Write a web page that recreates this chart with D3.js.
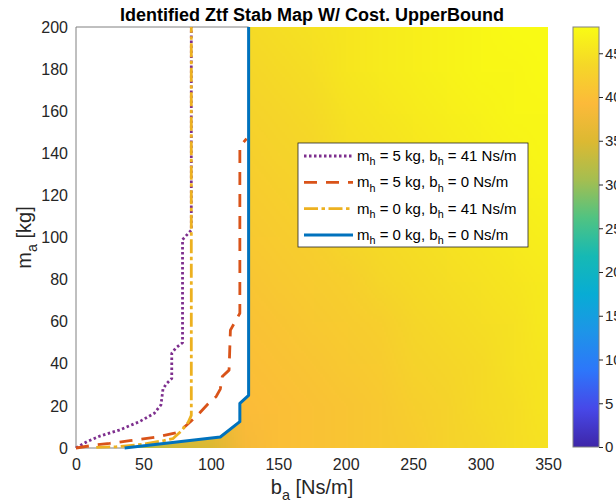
<!DOCTYPE html>
<html>
<head>
<meta charset="utf-8">
<script src="https://cdn.jsdelivr.net/npm/d3@7"></script>
<style>
  body { margin: 0; background: #fff; }
  svg { display: block; }
  text { font-family: "Liberation Sans", Arial, sans-serif; }
</style>
</head>
<body>
<svg id="chart"></svg>
<script>
// ---- data ----
const bGrid = [0, 25, 50, 75, 100, 125, 150, 175, 200, 225, 250, 275, 300, 325, 350];
const mGrid = [0, 20, 40, 60, 80, 100, 120, 140, 160, 180, 200];
// cost value per (m row, b column)
const costRows = [
    [28, 30, 32, 34, 35, 38.5, 40, 40.5, 41, 41.5, 42, 43, 43.5, 44.5, 45],
    [29, 31, 33, 35, 36.5, 39.5, 40, 40.5, 41, 41.5, 42.5, 43, 44, 44.5, 45.5],
    [30, 32, 34, 36, 38, 40, 40.5, 41, 41.5, 42, 43, 43.5, 44, 45, 45.5],
    [31, 33, 35, 37, 39, 40.5, 41, 41.5, 42, 42.5, 43.5, 44, 44.5, 45, 46],
    [32, 34, 36, 38, 40, 41, 41.5, 42, 42.5, 43.5, 44, 44.5, 45, 45.5, 46],
    [33, 35, 37, 39, 40.5, 41.5, 42, 42.5, 43.5, 44, 44.5, 45, 45.5, 46, 46.5],
    [34, 36, 38, 40, 41, 42, 42.5, 43, 44, 44.5, 45, 45.5, 46, 46.5, 47],
    [35, 37, 39, 40.5, 41.5, 42.5, 43, 43.5, 44.5, 45, 45.5, 46, 46.5, 47, 47.5],
    [36, 38, 40, 41, 42, 43, 43.5, 44, 45, 45.5, 46, 46.5, 47, 47.5, 47.5],
    [37, 39, 40.5, 41.5, 42.5, 43.5, 44, 44.5, 45.5, 46, 46.5, 47, 47.5, 47.5, 48],
    [38, 40, 41, 42, 43, 44, 44.5, 45, 45.5, 46, 46.5, 47, 47.5, 48, 48]
];

// stability boundaries [b_a, m_a]
const curveM5B41 = [[0, 0], [8, 3], [17, 5.5], [32, 8.5], [47, 12.5], [58, 16.5], [63, 20.5], [64.5, 28], [67, 30.5], [71, 33], [71, 45], [74, 47.5], [79, 50], [79, 99], [85.5, 103.5], [85.5, 200]];
const curveM5B0 = [[0, 0], [15, 1.5], [25, 2.2], [40, 3.5], [60, 5.2], [76, 7.5], [84, 12], [90, 15.5], [98, 21], [104, 24.5], [107, 28], [108.5, 34], [113.5, 37], [114.5, 56], [121.5, 64], [121.5, 143], [126.5, 147]];
const curveM0B41 = [[15, 0.3], [30, 0.6], [50, 1.8], [65, 3.5], [72, 4.5], [78, 8], [83, 12], [85.5, 15.5], [85.5, 200]];
const curveM0B0 = [[36, 0], [107, 5.2], [121.5, 12.5], [121.5, 21.2], [128, 25], [128, 200]];

const legendMh = ['5', '5', '0', '0'];
const legendBh = ['41', '0', '41', '0'];

const xTicks = [0, 50, 100, 150, 200, 250, 300, 350];
const yTicks = [0, 20, 40, 60, 80, 100, 120, 140, 160, 180, 200];
const cbTicks = [0, 5, 10, 15, 20, 25, 30, 35, 40, 45];
const cbMax = 48;

// ---- style ----
const W = 616, H = 504;
const parulaStops = ['#3e26a8', '#4748e8', '#2d76fa', '#1e94e8', '#08acd4', '#16b9b4', '#50c382', '#a5be50', '#dcb932', '#fcba3a', '#f5d728', '#f9fb14'];
const series = [
    { data: curveM5B41, color: '#7e2f8e', dash: '2.5,2.5', width: 2.8 },
    { data: curveM5B0, color: '#d95319', dash: '13,9', width: 2.8 },
    { data: curveM0B41, color: '#edb120', dash: '14,3.5,3.5,3.5', width: 2.8 },
    { data: curveM0B0, color: '#0072bd', dash: null, width: 3 }
];

const x = d3.scaleLinear().domain([0, 350]).range([76, 548]);
const y = d3.scaleLinear().domain([0, 200]).range([448, 27]);
const parula = d3.scaleLinear()
    .domain(parulaStops.map((c, i) => i / (parulaStops.length - 1) * cbMax))
    .range(parulaStops)
    .clamp(true);

const svg = d3.select('#chart').attr('width', W).attr('height', H);
const defs = svg.append('defs');
defs.append('clipPath').attr('id', 'plot-clip').append('rect')
    .attr('x', x(0)).attr('y', y(200)).attr('width', x(350) - x(0)).attr('height', y(0) - y(200));

// Heatmap: small image, smoothed by the browser
const cv = document.createElement('canvas');
cv.width = bGrid.length; cv.height = mGrid.length;
const ctx = cv.getContext('2d');
costRows.forEach((row, j) => row.forEach((v, i) => {
    ctx.fillStyle = parula(v);
    ctx.fillRect(i, mGrid.length - 1 - j, 1, 1);
}));
const db = bGrid[1] - bGrid[0], dm = mGrid[1] - mGrid[0];
const bLast = bGrid[bGrid.length - 1], mLast = mGrid[mGrid.length - 1];
svg.append('image')
    .attr('href', cv.toDataURL())
    .attr('x', x(bGrid[0] - db / 2)).attr('y', y(mLast + dm / 2))
    .attr('width', x(bLast + db / 2) - x(bGrid[0] - db / 2))
    .attr('height', y(mGrid[0] - dm / 2) - y(mLast + dm / 2))
    .attr('preserveAspectRatio', 'none')
    .attr('clip-path', 'url(#plot-clip)')
    .style('image-rendering', 'auto');

// Unstable region left of the m_h=0,b_h=0 boundary is blank
const edge = curveM0B0;
const maskPts = [[0, 0], ...edge, [edge[edge.length - 1][0], 200], [0, 200]];
svg.append('path')
    .attr('d', d3.line().x(d => x(d[0])).y(d => y(d[1]))(maskPts) + 'Z')
    .attr('fill', '#fff');

// Axis frame (only visible over the blank part)
const frame = svg.append('g').attr('stroke', '#808080').attr('stroke-width', 1).attr('fill', 'none');
frame.append('line').attr('x1', x(0)).attr('x2', x(0)).attr('y1', y(0)).attr('y2', y(200));
frame.append('line').attr('x1', x(0)).attr('x2', x(edge[edge.length - 1][0])).attr('y1', y(200)).attr('y2', y(200));
frame.append('line').attr('x1', x(0)).attr('x2', x(edge[0][0])).attr('y1', y(0)).attr('y2', y(0));

// Curves
const line = d3.line().x(d => x(d[0])).y(d => y(d[1]));
series.forEach(s => {
    svg.append('path')
        .attr('d', line(s.data))
        .attr('fill', 'none')
        .attr('stroke', s.color)
        .attr('stroke-width', s.width)
        .attr('stroke-dasharray', s.dash)
        .attr('stroke-linejoin', 'round');
});

// Axes
const xAxis = svg.append('g').attr('transform', `translate(0,${y(0)})`)
    .call(d3.axisBottom(x).tickValues(xTicks).tickSize(0).tickPadding(11));
const yAxis = svg.append('g').attr('transform', `translate(${x(0)},0)`)
    .call(d3.axisLeft(y).tickValues(yTicks).tickSize(0).tickPadding(8));
[xAxis, yAxis].forEach(a => {
    a.select('.domain').remove();
    a.selectAll('text').attr('font-size', '16px').attr('fill', '#262626')
        .attr('font-family', '"Liberation Sans", Arial, sans-serif');
});

// Title
svg.append('text')
    .attr('x', (x(0) + x(350)) / 2).attr('y', 21)
    .attr('text-anchor', 'middle').attr('font-size', '18px').attr('font-weight', 'bold').attr('fill', '#000')
    .text('Identified Ztf Stab Map W/ Cost. UpperBound');

// Axis labels
function subLabel(sel, main, sub, rest) {
    sel.append('tspan').text(main);
    sel.append('tspan').attr('font-size', '0.72em').attr('dy', '0.4em').text(sub);
    sel.append('tspan').attr('dy', '-0.29em').text(rest);
}
const xl = svg.append('text')
    .attr('x', (x(0) + x(350)) / 2).attr('y', 494)
    .attr('text-anchor', 'middle').attr('font-size', '20px').attr('fill', '#262626');
subLabel(xl, 'b', 'a', ' [Ns/m]');
const yl = svg.append('text')
    .attr('transform', `translate(31,${(y(0) + y(200)) / 2}) rotate(-90)`)
    .attr('text-anchor', 'middle').attr('font-size', '20px').attr('fill', '#262626');
subLabel(yl, 'm', 'a', ' [kg]');

// Legend
const lg = svg.append('g');
lg.append('rect').attr('x', 298).attr('y', 143).attr('width', 230).attr('height', 104)
    .attr('fill', '#fff').attr('stroke', '#262626').attr('stroke-width', 0.8);
series.forEach((s, i) => {
    const ly = 156 + i * 26.3;
    lg.append('line').attr('x1', 304).attr('x2', 353).attr('y1', ly).attr('y2', ly)
        .attr('stroke', s.color).attr('stroke-width', s.width).attr('stroke-dasharray', s.dash);
    const t = lg.append('text').attr('x', 357).attr('y', ly + 5).attr('font-size', '15px').attr('fill', '#000');
    t.append('tspan').text('m');
    t.append('tspan').attr('font-size', '0.72em').attr('dy', '0.4em').text('h');
    t.append('tspan').attr('dy', '-0.29em').text(` = ${legendMh[i]} kg, b`);
    t.append('tspan').attr('font-size', '0.72em').attr('dy', '0.4em').text('h');
    t.append('tspan').attr('dy', '-0.29em').text(` = ${legendBh[i]} Ns/m`);
});

// Colorbar (its labels run off the right edge, as in the original)
const cb = d3.scaleLinear().domain([0, cbMax]).range([447, 27]);
const grad = defs.append('linearGradient').attr('id', 'cb-grad')
    .attr('x1', 0).attr('y1', 1).attr('x2', 0).attr('y2', 0);
parulaStops.forEach((c, i) => grad.append('stop')
    .attr('offset', i / (parulaStops.length - 1)).attr('stop-color', c));
svg.append('rect').attr('x', 573).attr('y', cb(cbMax)).attr('width', 26).attr('height', cb(0) - cb(cbMax))
    .attr('fill', 'url(#cb-grad)').attr('stroke', '#808080').attr('stroke-width', 1);
const cbAxis = svg.append('g').attr('transform', 'translate(599,0)')
    .call(d3.axisRight(cb).tickValues(cbTicks).tickSize(4).tickPadding(2));
cbAxis.select('.domain').remove();
cbAxis.selectAll('line').attr('stroke', '#262626');
cbAxis.selectAll('text').attr('font-size', '15px').attr('fill', '#262626')
    .attr('font-family', '"Liberation Sans", Arial, sans-serif');
</script>
</body>
</html>
